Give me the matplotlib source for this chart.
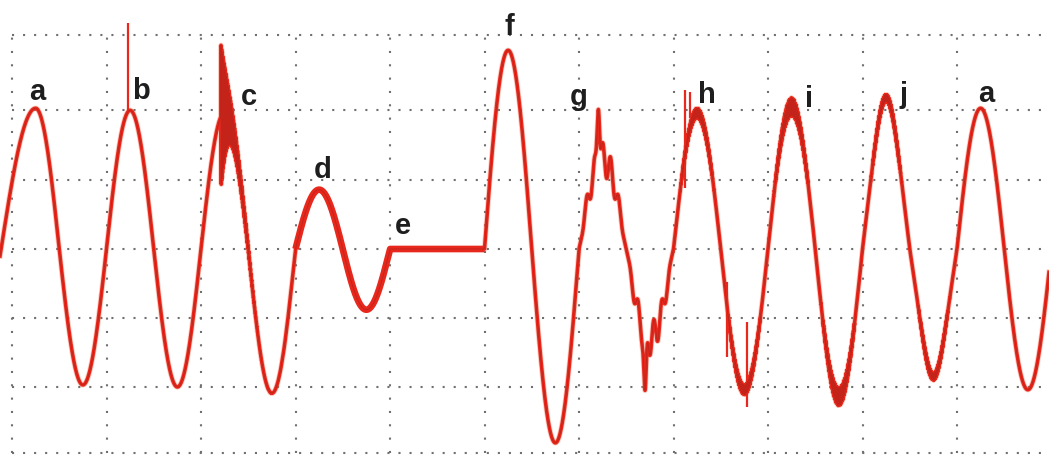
import numpy as np
import matplotlib
matplotlib.use("Agg")
import matplotlib.pyplot as plt

# ---------------- data (one grid division = one cycle; vertical unit = one division) -----------
cycle_labels = ['a', 'b', 'c', 'd', 'e', 'f', 'g', 'h', 'i', 'j', 'a']
cycle_peak = [2.04, 2.01, 1.98, 0.86, 0.0, 2.88, 1.30, 1.97, 2.06, 2.09, 2.04]
cycle_trough = [-1.97, -2.00, -2.09, -0.88, 0.0, -2.81, -1.30, -2.04, -2.14, -1.75, -2.04]
third_harmonic = [0, 0, 0, 0, 0, 0, 0, 0, 0, -0.10, 0]

# impulsive spikes / notches: time (cycles), top and bottom of each excursion
spike_t = [1.227, 7.12, 7.175, 7.566, 7.778]
spike_top = [3.28, 2.30, 2.27, -0.48, -1.06]
spike_bottom = [2.00, 0.88, 1.90, -1.57, -2.29]

# oscillatory transient on cycle c
osc_start = 2.21
osc_amp = 1.05
osc_decay = 0.085
osc_freq = 160.0

# harmonic cycle g: ripple orders/amplitudes and the sharp crest spike
harm_orders = [11, 13]
harm_amps = [0.14, 0.10]
g_spike_height = 1.0
g_spike_t = [6.205, 6.70]

# noise fuzz per cycle
fuzz_amp = [0, 0, 0, 0, 0, 0, 0, 0.07, 0.13, 0.05, 0]

# label placement (cycles, divisions)
label_x = [0.265, 1.370, 2.503, 3.286, 4.138, 5.259, 5.995, 7.349, 8.434, 9.434, 10.307]
label_y = [2.159, 2.174, 2.087, 1.029, 0.217, 3.101, 2.087, 2.116, 2.058, 2.116, 2.130]

# grid
v_grid = list(range(0, 11))
h_grid = [3.10, 2.01, 1.0, 0.0, -1.0, -2.0, -2.96]

# ---------------- build trace ----------------
t = np.linspace(-0.127, 10.98, 120000)
cyc = np.clip(np.floor(t).astype(int), 0, 10)
theta = 2 * np.pi * t
first = t < 0.25
theta[first] = (np.pi / 2) * (t[first] + 0.115) / 0.365
s = np.sin(theta)
P = np.array(cycle_peak)[cyc]
T = -np.array(cycle_trough)[cyc]
y = np.where(s >= 0, P * s, T * s)
y += np.array(third_harmonic)[cyc] * np.sin(3 * theta)

# oscillatory transient
m = (t >= osc_start) & (t < 3.0)
tt = t[m] - osc_start
y[m] += osc_amp * np.exp(-tt / osc_decay) * np.sin(2 * np.pi * osc_freq * tt)

# harmonics
m = cyc == 6
for k, a in zip(harm_orders, harm_amps):
    y[m] += a * np.sin(k * np.pi / 2) * np.sin(k * theta[m])
w = 0.018
y[m] += g_spike_height * (np.exp(-((t[m] - g_spike_t[0]) / w) ** 2)
                          - np.exp(-((t[m] - g_spike_t[1]) / w) ** 2))

# fuzz
fa = np.array(fuzz_amp)[cyc]
y += fa * np.abs(s) ** 3 * (0.6 * np.sin(2 * np.pi * 331.3 * t) + 0.4 * np.sin(2 * np.pi * 517.7 * t + 1.3))

# ---------------- draw ----------------
fig = plt.figure(figsize=(10.49, 4.57), dpi=100)
ax = fig.add_axes([0, 0, 1, 1])
ax.set_xlim(-12 / 94.5, 1037 / 94.5)
ax.set_ylim(-208 / 69, 249 / 69)
ax.axis('off')

gcol = '#707070'
for yv in h_grid:
    ax.plot([0, 10.98], [yv, yv], color=gcol, lw=1.5, dashes=(1, 4.3), zorder=1)
for xv in v_grid:
    ax.plot([xv, xv], [h_grid[-1], h_grid[0]], color=gcol, lw=1.5, dashes=(1, 5.4), zorder=1)

red = '#e8281c'
ax.plot(t, y, color='#f26a4a', lw=3.8, alpha=0.35, zorder=2)
ax.plot(t, y, color=red, lw=2.6, zorder=3)
ax.plot(t, y, color='#a52018', lw=0.7, alpha=0.55, zorder=4)
thick = (t >= 3.0) & (t <= 5.0)
ax.plot(t[thick], y[thick], color=red, lw=4.8, zorder=3, solid_capstyle='butt')

ax.vlines(spike_t, spike_bottom, spike_top, colors=red, lw=1.6, zorder=3)

for lab, lx, ly in zip(cycle_labels, label_x, label_y):
    ax.text(lx, ly, lab, fontsize=21, fontweight='bold',
            family=['Liberation Sans Narrow', 'Liberation Sans', 'DejaVu Sans'],
            ha='center', va='baseline', color='#1e1e1e', zorder=5)

fig.savefig('out.png', dpi=100, facecolor='white')
